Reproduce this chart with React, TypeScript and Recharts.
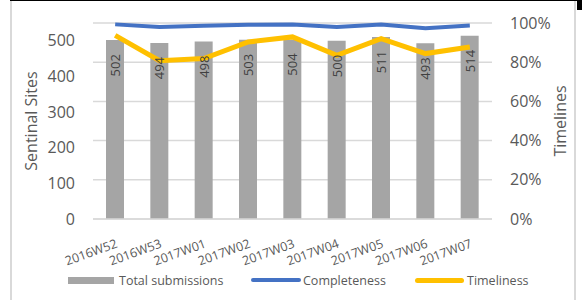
import React from 'react';
import { ComposedChart, Bar, Line, XAxis, YAxis, CartesianGrid, LabelList } from 'recharts';

const weeks = ['2016W52', '2016W53', '2017W01', '2017W02', '2017W03', '2017W04', '2017W05', '2017W06', '2017W07'];
const submissions = [502, 494, 498, 503, 504, 500, 511, 493, 514];
const completeness = [99.3, 98, 98.6, 99.1, 99.2, 98, 99.2, 97.3, 98.7];
const timeliness = [93.7, 80.8, 81.9, 90.3, 92.9, 83.5, 92, 84.4, 87.8];

const leftTicks = [0, 100, 200, 300, 400, 500];
const rightTicks = [0, 20, 40, 60, 80, 100];

const data = weeks.map((w, i) => ({
  week: w,
  submissions: submissions[i],
  completeness: completeness[i],
  timeliness: timeliness[i],
}));

const FONT = '"Open Sans", sans-serif';
const TEXT = '#595959';

const WeekTick = (props: any) => {
  const { x, y, payload } = props;
  const ax = x + 3;
  const ay = y + 20;
  return (
    <text
      x={ax}
      y={ay}
      transform={`rotate(-20, ${ax}, ${ay})`}
      textAnchor="end"
      fill={TEXT}
      fontSize={12.5}
      fontFamily={FONT}
    >
      {payload.value}
    </text>
  );
};

const BarValue = (props: any) => {
  const { x, y, width, value } = props;
  const cx = x + width / 2;
  const ty = y + 14;
  return (
    <text
      x={cx}
      y={ty}
      transform={`rotate(-90, ${cx}, ${ty})`}
      textAnchor="end"
      dominantBaseline="central"
      fill="#404040"
      fontSize={13}
      fontFamily={FONT}
    >
      {value}
    </text>
  );
};

const App: React.FC = () => {
  return (
    <div style={{ position: 'absolute', left: 0, top: 0, width: 582, height: 300, background: '#fff', fontFamily: FONT }}>
      {/* frame */}
      <div style={{ position: 'absolute', left: 10, top: 0, width: 1.5, height: 300, background: '#D9D9D9' }} />
      <div style={{ position: 'absolute', left: 574, top: 0, width: 1.5, height: 300, background: '#D9D9D9' }} />
      <div style={{ position: 'absolute', left: 10, top: 0, width: 572, height: 1, background: '#000' }} />
      <div style={{ position: 'absolute', left: 577, top: 0, width: 5, height: 10, background: '#000' }} />

      <div style={{ position: 'absolute', left: 0, top: 0 }}>
        <ComposedChart width={582} height={300} data={data} margin={{ top: 23, right: 0, bottom: 0, left: 0 }} barCategoryGap="30%">
          <CartesianGrid yAxisId="right" vertical={false} stroke="#D9D9D9" strokeWidth={1.5} />
          <XAxis dataKey="week" height={81} tickLine={false} axisLine={{ stroke: '#D9D9D9', strokeWidth: 1.5 }} interval={0} tick={<WeekTick />} />
          <YAxis
            yAxisId="left"
            width={93}
            domain={[0, 550]}
            ticks={leftTicks}
            tickLine={false}
            axisLine={false}
            tickSize={0}
            tickMargin={18}
            tick={{ fill: TEXT, fontSize: 16, fontFamily: FONT }}
          />
          <YAxis
            yAxisId="right"
            orientation="right"
            width={90}
            domain={[0, 100]}
            ticks={rightTicks}
            tickFormatter={(v: number) => `${v}%`}
            tickLine={false}
            axisLine={false}
            tickSize={0}
            tickMargin={18}
            tick={{ fill: TEXT, fontSize: 16, fontFamily: FONT, textAnchor: 'start' }}
          />
          <Bar yAxisId="left" dataKey="submissions" fill="#A5A5A5" barSize={18} isAnimationActive={false}>
            <LabelList dataKey="submissions" content={<BarValue />} />
          </Bar>
          <Line yAxisId="right" type="linear" dataKey="completeness" stroke="#4472C4" strokeWidth={4} dot={false} isAnimationActive={false} />
          <Line yAxisId="right" type="linear" dataKey="timeliness" stroke="#FFC000" strokeWidth={5} dot={false} isAnimationActive={false} />
        </ComposedChart>
      </div>

      {/* axis titles */}
      <div style={{ position: 'absolute', left: 31, top: 121, transform: 'translate(-50%, -50%) rotate(-90deg)', whiteSpace: 'nowrap', fontSize: 16, color: TEXT }}>
        Sentinal Sites
      </div>
      <div style={{ position: 'absolute', left: 560, top: 121, transform: 'translate(-50%, -50%) rotate(-90deg)', whiteSpace: 'nowrap', fontSize: 16, color: TEXT }}>
        Timelines
      </div>

      {/* legend */}
      <div style={{ position: 'absolute', left: 68, top: 271, height: 18, display: 'flex', alignItems: 'center', fontSize: 12.5, color: TEXT, whiteSpace: 'nowrap' }}>
        <span style={{ display: 'inline-block', width: 46, height: 7, background: '#A5A5A5', marginRight: 5 }} />
        <span>Total submissions</span>
      </div>
      <div style={{ position: 'absolute', left: 251, top: 271, height: 18, display: 'flex', alignItems: 'center', fontSize: 12.5, color: TEXT, whiteSpace: 'nowrap' }}>
        <span style={{ display: 'inline-block', width: 50, height: 4, borderRadius: 2, background: '#4472C4', marginRight: 2 }} />
        <span>Completeness</span>
      </div>
      <div style={{ position: 'absolute', left: 415, top: 271, height: 18, display: 'flex', alignItems: 'center', fontSize: 12.5, color: TEXT, whiteSpace: 'nowrap' }}>
        <span style={{ display: 'inline-block', width: 49, height: 5, borderRadius: 2.5, background: '#FFC000', marginRight: 3 }} />
        <span>Timeliness</span>
      </div>
    </div>
  );
};

export default App;
